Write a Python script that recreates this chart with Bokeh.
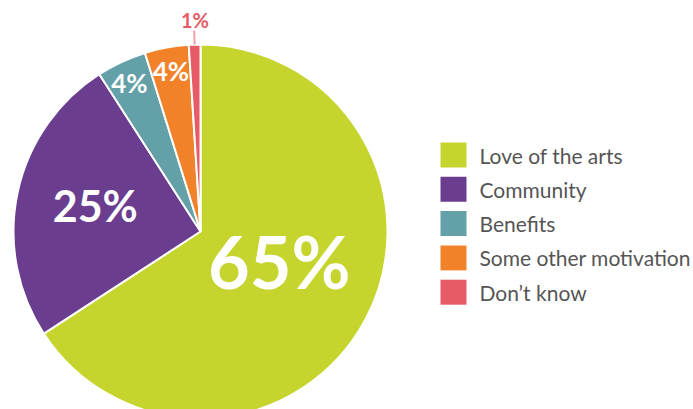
import numpy as np
from bokeh.plotting import figure
from bokeh.models import ColumnDataSource, Range1d
from bokeh.core.properties import value
from bokeh.embed import file_html
from bokeh.resources import INLINE

# ---- data ----
categories = ["Love of the arts", "Community", "Benefits", "Some other motivation", "Don\u2019t know"]
shares = [65.8, 25.1, 4.3, 3.8, 1.0]
labels = ["65%", "25%", "4%", "4%", "1%"]
colors = ["#C5D52E", "#6A3D8F", "#63A0A7", "#F2822A", "#E65B66"]

# ---- layout ----
W, H = 693, 409
cx, cy, R = 200, H - 231, 187
label_r = [0.45, 0.58, 0.88, 0.875, 1.13]
label_da = [8.0, -2.0, 0.6, 0.0, -0.3]      # degrees nudge from slice middle
label_size = ["72px", "43px", "26px", "26px", "20px"]
label_color = ["white", "white", "white", "white", "#E65B66"]

p = figure(width=W, height=H, x_range=Range1d(0, W), y_range=Range1d(0, H),
           output_backend="svg", toolbar_location=None, min_border=0)
p.axis.visible = False
p.grid.visible = False
p.outline_line_color = None
p.background_fill_color = "white"

frac = np.array(shares) / np.sum(shares)
ang = frac * 2 * np.pi
ends = np.pi / 2 - np.cumsum(ang)
starts = ends + ang
src = ColumnDataSource(dict(start=starts, end=ends, color=colors, cat=categories))
p.wedge(x=cx, y=cy, radius=R, start_angle="end", end_angle="start", direction="anticlock",
        fill_color="color", line_color="white", line_width=2, source=src)

mids = (starts + ends) / 2 + np.radians(label_da)
lx = cx + np.array(label_r) * R * np.cos(mids)
ly = cy + np.array(label_r) * R * np.sin(mids)
for i in range(len(labels)):
    p.text(x=[lx[i]], y=[ly[i]], text=[labels[i]], text_font=value("Lato"),
           text_font_style="bold", text_font_size=label_size[i], text_color=label_color[i],
           text_align="center", text_baseline="middle")

# leader line for the smallest slice
m = (starts[-1] + ends[-1]) / 2
p.segment(x0=[cx + R * np.cos(m)], y0=[cy + R * np.sin(m)],
          x1=[cx + 1.075 * R * np.cos(m)], y1=[cy + 1.075 * R * np.sin(m)],
          line_color="#F0A0A8", line_width=2)

# legend
lgx, lg_y0, lg_dy = 453, H - 154.5, 34.3
ys = [lg_y0 - i * lg_dy for i in range(len(categories))]
p.rect(x=[lgx] * len(categories), y=ys, width=26, height=25, fill_color=colors, line_color=None)
p.text(x=[479] * len(categories), y=ys, text=categories, text_font=value("Lato"),
       text_font_size="21px", text_color="#555555", text_align="left", text_baseline="middle")

open("out.html", "w").write(file_html(p, INLINE))
